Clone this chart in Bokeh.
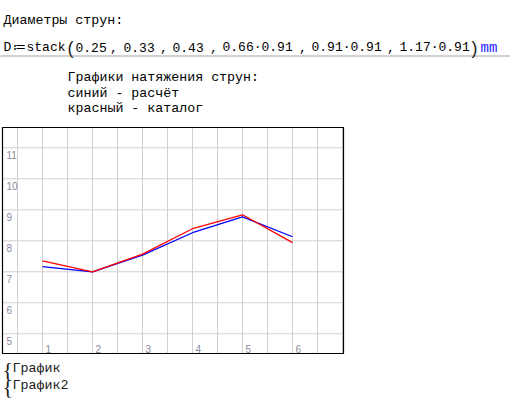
from bokeh.plotting import figure
from bokeh.models import Label, Range1d, Span
from bokeh.core.properties import value
from bokeh.embed import file_html
from bokeh.resources import INLINE

# ---- data ----
string_no = [1, 2, 3, 4, 5, 6]
tension_calc = [7.17, 7.00, 7.54, 8.26, 8.77, 8.13]      # синий - расчёт
tension_catalog = [7.35, 7.00, 7.57, 8.39, 8.84, 7.94]   # красный - каталог
x_tick_labels = ["1", "2", "3", "4", "5", "6"]
x_ticks = [1, 2, 3, 4, 5, 6]
y_ticks = [5, 6, 7, 8, 9, 10, 11]
y_tick_labels = ["5", "6", "7", "8", "9", "10", "11"]
x_grid = [0.5, 1, 1.5, 2, 2.5, 3, 3.5, 4, 4.5, 5, 5.5, 6, 6.5, 7]
X_MIN, X_MAX = 0.2, 7.02        # chart's x extent
Y_MIN, Y_MAX = 4.364, 11.655    # chart's y extent

W, H = 510, 399
MONO = "Liberation Mono"
# chart box position on the page (pixels)
BOX_L, BOX_R, BOX_T, BOX_B = 2, 343, 127, 353

# page coordinates: x 0..W, y 0..H downward; chart scale as extra ranges
px_x = (X_MAX - X_MIN) / (BOX_R - BOX_L)
px_y = (Y_MAX - Y_MIN) / (BOX_B - BOX_T)
cx = Range1d(X_MIN - BOX_L * px_x, X_MAX + (W - BOX_R) * px_x)
cy = Range1d(Y_MIN - (H - BOX_B) * px_y, Y_MAX + BOX_T * px_y)

p = figure(width=W, height=H, output_backend="svg", toolbar_location=None,
           x_range=Range1d(0, W), y_range=Range1d(H, 0),
           x_axis_location=None, y_axis_location=None, min_border=0)
p.extra_x_ranges = {"c": cx}
p.extra_y_ranges = {"c": cy}
p.outline_line_color = None
p.background_fill_color = "white"
p.border_fill_color = "white"
p.grid.visible = False

C = dict(x_range_name="c", y_range_name="c")

# chart grid
p.segment(x0=x_grid, x1=x_grid, y0=[Y_MIN] * len(x_grid), y1=[Y_MAX] * len(x_grid),
          line_color="#d0d0d0", line_width=1, **C)
p.segment(x0=[X_MIN] * len(y_ticks), x1=[X_MAX] * len(y_ticks), y0=y_ticks, y1=y_ticks,
          line_color="#d0d0d0", line_width=1, **C)

tick_color = "#8a8a9c"
p.text(x=x_ticks, y=[Y_MIN] * len(x_ticks), text=x_tick_labels,
       text_font=value("Liberation Sans"), text_font_size="10px",
       text_color=tick_color, text_baseline="bottom", text_align="left",
       x_offset=3, y_offset=-1, **C)
p.text(x=[X_MIN] * len(y_ticks), y=y_ticks, text=y_tick_labels,
       text_font=value("Liberation Sans"), text_font_size="10px",
       text_color=tick_color, text_baseline="top", text_align="left",
       x_offset=4, y_offset=3, **C)

p.line(string_no, tension_calc, line_color="#0000ff", line_width=1.3, **C)
p.line(string_no, tension_catalog, line_color="#ff0000", line_width=1.3, **C)

# chart border
p.quad(left=[X_MIN], right=[X_MAX], bottom=[Y_MIN], top=[Y_MAX],
       fill_alpha=0, line_color="black", line_width=1.2, **C)


def lab(x, y, text, size="13.3px", color="black", font=MONO):
    p.add_layout(Label(x=x, y=y, text=text, text_font=font, text_font_size=size,
                       text_color=color, text_baseline="alphabetic"))


# ---- header ----
lab(3, 19.5, "Диаметры струн:")
lab(3, 47, "D", size="13px")
lab(12, 47, "≔", size="13px")
lab(26, 47, "stack", size="13px")
lab(67, 47.5, "(", size="18px", font="Liberation Sans", color="#222222")
segs = [(75, "0.25"), (109.5, ","), (123, "0.33"), (159.5, ","), (172, "0.43"),
        (209.5, ","), (222, "0.66·0.91"), (298.5, ","), (311, "0.91·0.91"),
        (386.5, ","), (399, "1.17·0.91")]
for x0, st in segs:
    lab(x0, 47, st, size="13px")
lab(471, 47.5, ")", size="18px", font="Liberation Sans", color="#222222")
lab(480, 47, "mm", color="#2020ff", size="14px")
p.add_layout(Span(location=55.5, dimension="width", line_color="#444444",
                  line_dash="1 1", line_width=1))
lab(67, 77, "Графики натяжения струн:")
lab(67, 92.5, "синий - расчёт")
lab(67, 108, "красный - каталог")

# ---- footer ----
lab(2, 369, "{", size="22px", font="Liberation Serif", color="#222222")
lab(2, 386, "{", size="22px", font="Liberation Serif", color="#222222")
lab(12, 368, "График", color="#201818")
lab(12, 385, "График2", color="#201818")

open("out.html", "w").write(file_html(p, INLINE))
